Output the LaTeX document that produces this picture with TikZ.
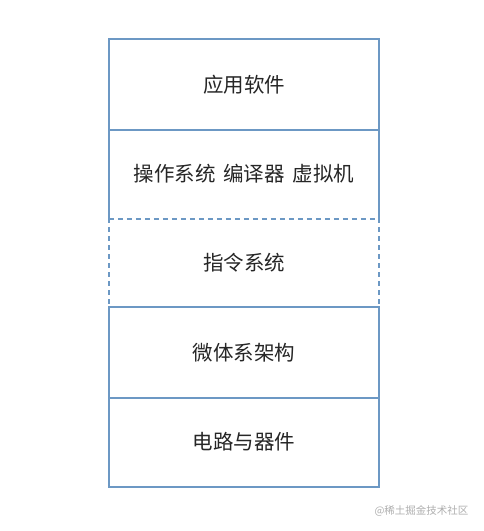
\documentclass[tikz,border=0pt]{standalone}
\usepackage{fontspec}
\setmainfont{Noto Sans CJK SC}
\definecolor{frame}{RGB}{108,152,196}
\definecolor{wm}{RGB}{175,175,175}
\tikzset{
  cell/.style={minimum width=270pt, inner sep=0pt, font=\fontsize{20.5}{24}\selectfont, text=black!85},
  frameline/.style={draw=frame, line width=1.8pt},
  dashline/.style={draw=frame, line width=1.8pt, dash pattern=on 5pt off 4pt},
}
\begin{document}
\begin{tikzpicture}[x=1pt,y=-1pt]
\useasboundingbox[fill=white] (0,0) rectangle (483,531);
\node[cell, minimum height=90pt] (r1) at (244,84.5) {应用软件};
\node[cell, minimum height=89pt] (r2) at (244,174) {操作系统\hspace{0.38em}编译器\hspace{0.38em}虚拟机};
\node[cell, minimum height=89pt] (r3) at (244,263) {指令系统};
\node[cell, minimum height=90pt] (r4) at (244,352.5) {微体系架构};
\node[cell, minimum height=89pt] (r5) at (244,442) {电路与器件};
\draw[frameline] (r2.south west) -- (r1.north west) -- (r1.north east) -- (r2.south east);
\draw[frameline] (r1.south west) -- (r1.south east);
\draw[dashline] (r2.south west) -- (r2.south east);
\draw[dashline] (r3.north west) -- (r3.south west);
\draw[dashline] (r3.north east) -- (r3.south east);
\draw[frameline] (r4.north west) -- (r5.south west) -- (r5.south east) -- (r4.north east) -- cycle;
\draw[frameline] (r4.south west) -- (r4.south east);
\node[font=\fontsize{10.5}{12}\selectfont, text=wm, anchor=east] (wm) at (472,511) {@稀土掘金技术社区};
\end{tikzpicture}
\end{document}
